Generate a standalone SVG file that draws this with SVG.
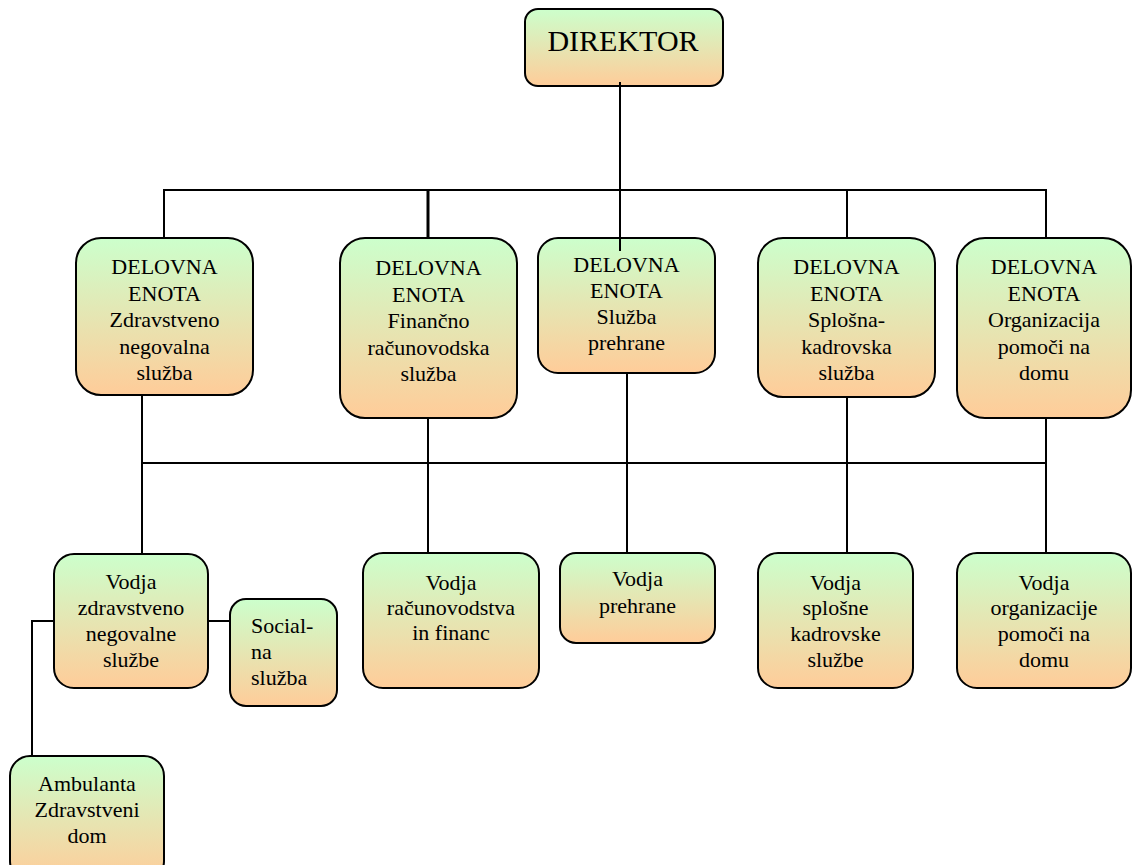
<svg xmlns="http://www.w3.org/2000/svg" width="1132" height="865" viewBox="0 0 1132 865">
<defs>
<linearGradient id="g" x1="0" y1="0" x2="0" y2="1">
<stop offset="0" stop-color="#ccffcc"/>
<stop offset="1" stop-color="#ffcc99"/>
</linearGradient>
<style>
.b{fill:url(#g);stroke:#000;stroke-width:2}
text{font-family:'Liberation Serif',serif;font-size:22px;fill:#000;text-anchor:middle}
.c{stroke:#000;stroke-width:2;fill:none}
</style>
</defs>
<rect width="1132" height="865" fill="#fff"/>
<g id="n-direktor">
<rect class="b" x="525" y="9" width="198" height="77" rx="13"/>
<text x="623" y="51" font-family="Liberation Serif, serif" style="font-size:30px">DIREKTOR</text>
</g>
<g id="n-de1" font-family="Liberation Serif, serif">
<rect class="b" x="76" y="238" width="177" height="157" rx="25"/>
<text x="164.5" y="274">DELOVNA</text>
<text x="164.5" y="300.5">ENOTA</text>
<text x="164.5" y="327">Zdravstveno</text>
<text x="164.5" y="353.5">negovalna</text>
<text x="164.5" y="380">služba</text>
</g>
<g id="n-de2">
<rect class="b" x="340" y="238" width="177" height="180" rx="25"/>
<text x="428.5" y="275">DELOVNA</text>
<text x="428.5" y="301.5">ENOTA</text>
<text x="428.5" y="328">Finančno</text>
<text x="428.5" y="354.5">računovodska</text>
<text x="428.5" y="381">služba</text>
</g>
<g id="n-de3">
<rect class="b" x="538" y="238" width="177" height="135" rx="20"/>
<text x="626.5" y="272">DELOVNA</text>
<text x="626.5" y="298">ENOTA</text>
<text x="626.5" y="324">Služba</text>
<text x="626.5" y="350">prehrane</text>
</g>
<g id="n-de4">
<rect class="b" x="758" y="238" width="177" height="159" rx="25"/>
<text x="846.5" y="274">DELOVNA</text>
<text x="846.5" y="300.5">ENOTA</text>
<text x="846.5" y="327">Splošna-</text>
<text x="846.5" y="353.5">kadrovska</text>
<text x="846.5" y="380">služba</text>
</g>
<g id="n-de5">
<rect class="b" x="957" y="238" width="174" height="180" rx="28"/>
<text x="1044" y="274">DELOVNA</text>
<text x="1044" y="300.5">ENOTA</text>
<text x="1044" y="327">Organizacija</text>
<text x="1044" y="353.5">pomoči na</text>
<text x="1044" y="380">domu</text>
</g>
<g id="n-v1">
<rect class="b" x="54" y="554" width="154" height="134" rx="20"/>
<text x="131" y="589">Vodja</text>
<text x="131" y="615">zdravstveno</text>
<text x="131" y="641">negovalne</text>
<text x="131" y="667">službe</text>
</g>
<g id="n-social">
<rect class="b" x="230" y="599" width="107" height="107" rx="16"/>
<text x="251" y="633" style="text-anchor:start">Social-</text>
<text x="251" y="659" style="text-anchor:start">na</text>
<text x="251" y="685" style="text-anchor:start">služba</text>
</g>
<g id="n-amb">
<rect class="b" x="10" y="756" width="154" height="125" rx="20"/>
<text x="87" y="791">Ambulanta</text>
<text x="87" y="817">Zdravstveni</text>
<text x="87" y="843">dom</text>
</g>
<g id="n-v2">
<rect class="b" x="363" y="553" width="176" height="135" rx="20"/>
<text x="451" y="590">Vodja</text>
<text x="451" y="615">računovodstva</text>
<text x="451" y="640">in financ</text>
</g>
<g id="n-v3">
<rect class="b" x="560" y="553" width="155" height="90" rx="16"/>
<text x="637.5" y="586">Vodja</text>
<text x="637.5" y="613">prehrane</text>
</g>
<g id="n-v4">
<rect class="b" x="758" y="553" width="155" height="135" rx="20"/>
<text x="835.5" y="590">Vodja</text>
<text x="835.5" y="615">splošne</text>
<text x="835.5" y="641">kadrovske</text>
<text x="835.5" y="667">službe</text>
</g>
<g id="n-v5">
<rect class="b" x="957" y="553" width="174" height="135" rx="20"/>
<text x="1044" y="590">Vodja</text>
<text x="1044" y="615">organizacije</text>
<text x="1044" y="641">pomoči na</text>
<text x="1044" y="667">domu</text>
</g>
<g id="connectors">
<line class="c" x1="620" y1="82" x2="620" y2="251"/>
<polyline class="c" points="164,238 164,190 1046,190 1046,238"/>
<line class="c" x1="428" y1="190" x2="428" y2="238" style="stroke-width:3"/>
<line class="c" x1="847" y1="190" x2="847" y2="238"/>
<line class="c" x1="142" y1="395" x2="142" y2="554"/>
<line class="c" x1="142" y1="463" x2="1046" y2="463"/>
<line class="c" x1="428" y1="418" x2="428" y2="553"/>
<line class="c" x1="627" y1="373" x2="627" y2="553"/>
<line class="c" x1="847" y1="397" x2="847" y2="553"/>
<line class="c" x1="1046" y1="418" x2="1046" y2="553"/>
<line class="c" x1="208" y1="621" x2="230" y2="621"/>
<polyline class="c" points="54,621 32,621 32,756"/>
</g>
</svg>
